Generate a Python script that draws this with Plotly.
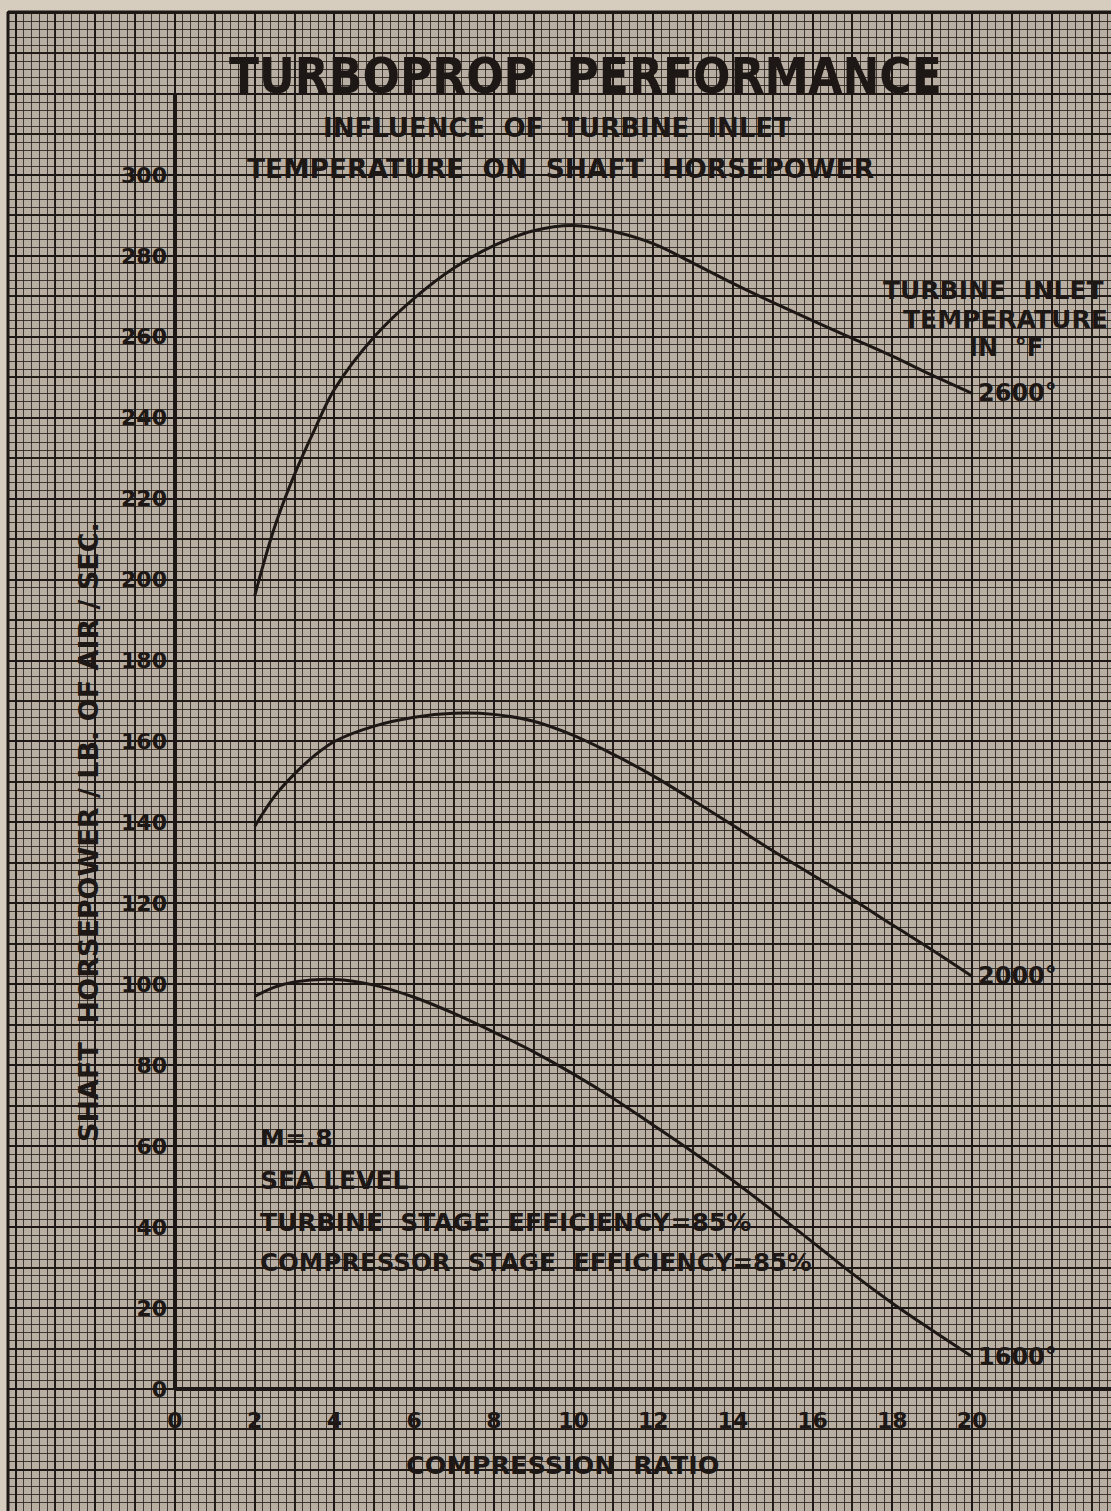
import plotly.graph_objects as go

# ---------------- data ----------------
x_2600 = [2, 2.5, 3, 3.5, 4, 5, 6, 7, 8, 9, 10, 11, 12, 13, 14, 15, 16, 17, 18, 19, 20]
y_2600 = [196, 213, 226, 237, 247, 260, 269.5, 277, 282.5, 286.2, 287.5, 286, 283, 278.2, 273.2,
          268.5, 264, 259.6, 255.2, 250.5, 246]

x_2000 = [2, 2.5, 3, 3.5, 4, 5, 6, 7, 8, 9, 10, 11, 12, 13, 14, 15, 16, 17, 18, 19, 20]
y_2000 = [139, 146.5, 152, 156.5, 160, 163.8, 166, 167, 166.7, 165, 161.5, 156.8, 151.5, 145.5,
          139.3, 133, 127, 121, 114.7, 108.5, 102]

x_1600 = [2, 2.5, 3, 4, 5, 6, 7, 8, 9, 10, 11, 12, 13, 14, 15, 16, 17, 18, 19, 20]
y_1600 = [97, 99.3, 100.6, 101.2, 99.8, 96.8, 92.8, 88.2, 83.3, 77.8, 71.8, 65.2, 58.5, 51.5,
          44, 36.3, 28.5, 21.2, 14.5, 8]

x_tick_vals = [0, 2, 4, 6, 8, 10, 12, 14, 16, 18, 20]
x_tick_text = ["0", "2", "4", "6", "8", "10", "12", "14", "16", "18", "20"]
y_tick_vals = list(range(0, 301, 20))
y_tick_text = [str(v) for v in y_tick_vals]

curve_labels = ["2600°", "2000°", "1600°"]

# ---------------- layout geometry ----------------
W, H = 1111, 1511
X0PX, XSCALE = 175.0, 39.85     # pixel of x=0, pixels per unit
Y0PX, YSCALE = 1389.0, 4.047    # pixel of y=0, pixels per unit
xr = [-X0PX / XSCALE, (W - X0PX) / XSCALE]
yr = [-(H - Y0PX) / YSCALE, Y0PX / YSCALE]

PAPER = "#b9aea2"
INK = "#1d1815"
GRID = "rgba(36,29,25,0.82)"
MID = "rgba(29,24,21,0.95)"
TXT = "DejaVu Sans, Verdana, sans-serif"
NARROW = "Liberation Sans Narrow, DejaVu Sans Condensed, Arial Narrow, sans-serif"


def P(px, py):
    return px / W, 1 - py / H


fig = go.Figure()

for xs, ys in [(x_2600, y_2600), (x_2000, y_2000), (x_1600, y_1600)]:
    fig.add_trace(go.Scatter(x=xs, y=ys, mode="lines",
                             line=dict(color=INK, width=3, shape="spline", smoothing=1.0),
                             hoverinfo="skip", showlegend=False))

# empty traces to register overlay grid subplots
for k in ("2", "3"):
    fig.add_trace(go.Scatter(x=[], y=[], xaxis="x" + k, yaxis="y" + k,
                             showlegend=False, hoverinfo="skip"))

tickfont = dict(family=TXT, size=22, color=INK, weight="bold")

fig.update_layout(
    width=W, height=H, margin=dict(l=0, r=0, t=0, b=0),
    paper_bgcolor=PAPER, plot_bgcolor=PAPER, showlegend=False,
    xaxis=dict(range=xr, domain=[0, 1], anchor="free", position=(H - Y0PX) / H,
               tickmode="array", tickvals=x_tick_vals, ticktext=x_tick_text,
               ticks="", ticklabelstandoff=16, tickfont=tickfont,
               showgrid=False, zeroline=False, showline=False,
               minor=dict(tickmode="linear", tick0=0, dtick=0.2, showgrid=True,
                          gridcolor=GRID, gridwidth=1.4, ticks="")),
    yaxis=dict(range=yr, domain=[0, 1], anchor="free", position=X0PX / W,
               tickmode="array", tickvals=y_tick_vals, ticktext=y_tick_text,
               ticks="", ticklabelstandoff=8, tickfont=tickfont,
               showgrid=False, zeroline=False, showline=False,
               minor=dict(tickmode="linear", tick0=0, dtick=2, showgrid=True,
                          gridcolor=GRID, gridwidth=1.4, ticks="")),
    xaxis2=dict(range=xr, overlaying="x", anchor="y2", tickmode="linear", tick0=0, dtick=1,
                showgrid=True, gridcolor=MID, gridwidth=1.6, showticklabels=False,
                zeroline=False, showline=False, ticks=""),
    yaxis2=dict(range=yr, overlaying="y", anchor="x2", tickmode="linear", tick0=0, dtick=10,
                showgrid=True, gridcolor=MID, gridwidth=1.6, showticklabels=False,
                zeroline=False, showline=False, ticks=""),
    xaxis3=dict(range=xr, overlaying="x", anchor="y3", tickmode="linear", tick0=0, dtick=2,
                showgrid=True, gridcolor=INK, gridwidth=2.1, showticklabels=False,
                zeroline=False, showline=False, ticks=""),
    yaxis3=dict(range=yr, overlaying="y", anchor="x3", tickmode="linear", tick0=0, dtick=20,
                showgrid=True, gridcolor=INK, gridwidth=2.1, showticklabels=False,
                zeroline=False, showline=False, ticks=""),
)

# axis lines of the chart
fig.add_shape(type="line", xref="x", yref="y", x0=0, y0=0, x1=0, y1=320,
              line=dict(color=INK, width=4))
fig.add_shape(type="line", xref="x", yref="y", x0=0, y0=0, x1=xr[1], y1=0,
              line=dict(color=INK, width=4))

# paper border (unruled margin at the top and left)
fig.add_shape(type="rect", xref="paper", yref="paper", x0=0, x1=1, y0=1 - 11 / H, y1=1,
              fillcolor="#d6cdbf", line=dict(width=0), layer="above")
fig.add_shape(type="rect", xref="paper", yref="paper", x0=0, x1=7 / W, y0=0, y1=1,
              fillcolor="#d6cdbf", line=dict(width=0), layer="above")
fig.add_shape(type="line", xref="paper", yref="paper", x0=8 / W, x1=1, y0=1 - 12 / H, y1=1 - 12 / H,
              line=dict(color=INK, width=3), layer="above")
fig.add_shape(type="line", xref="paper", yref="paper", x0=8 / W, x1=8 / W, y0=0, y1=1 - 12 / H,
              line=dict(color=INK, width=3), layer="above")


def ann(text, px, py, size, family=TXT, xanchor="center", angle=0):
    ax, ay = P(px, py)
    fig.add_annotation(x=ax, y=ay, xref="paper", yref="paper", text=text, showarrow=False,
                       xanchor=xanchor, yanchor="middle", textangle=angle,
                       font=dict(family=family, size=size, color=INK, weight="bold"))


# titles
ann("TURBOPROP  PERFORMANCE", 585, 76, 49, family=NARROW)
ann("INFLUENCE  OF  TURBINE  INLET", 557, 128, 26)
ann("TEMPERATURE  ON  SHAFT  HORSEPOWER", 560, 168, 26.5)

# axis titles
ann("SHAFT  HORSEPOWER / LB. OF AIR / SEC.", 88, 832, 27, angle=-90)
ann("COMPRESSION  RATIO", 562, 1465, 25.5)

# curve legend on the right
ann("TURBINE  INLET", 993, 290, 25)
ann("TEMPERATURE", 1005, 320, 25)
ann("IN  °F", 1006, 348, 24)

# curve end labels, placed just right of each curve's last point
for xs, ys, lab in [(x_2600, y_2600, curve_labels[0]), (x_2000, y_2000, curve_labels[1]),
                    (x_1600, y_1600, curve_labels[2])]:
    fig.add_annotation(x=xs[-1], y=ys[-1], xref="x", yref="y", text=lab, showarrow=False,
                       xanchor="left", yanchor="middle", xshift=4,
                       font=dict(family=TXT, size=24, color=INK, weight="bold"))

# conditions block
ann("M=.8", 258, 1138, 25, xanchor="left")
ann("SEA LEVEL", 258, 1180, 25, xanchor="left")
ann("TURBINE  STAGE  EFFICIENCY=85%", 258, 1222, 25, xanchor="left")
ann("COMPRESSOR  STAGE  EFFICIENCY=85%", 258, 1262, 24.5, xanchor="left")

fig.write_html("out.html", config={"displayModeBar": False},
               post_script="document.body.style.margin='0';")
